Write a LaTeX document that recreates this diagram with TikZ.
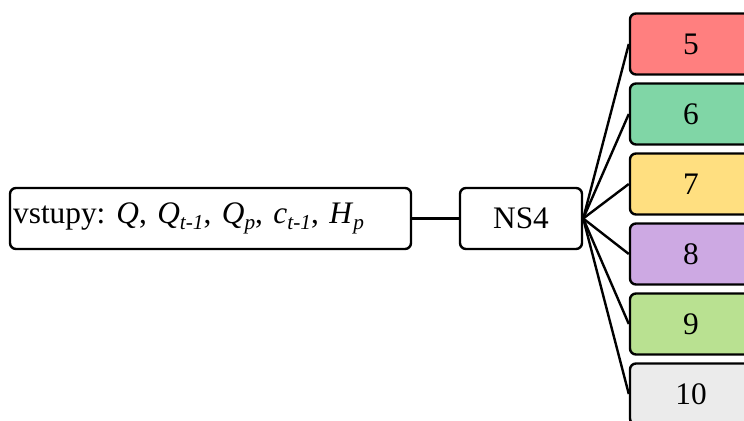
\documentclass[tikz,border=0pt]{standalone}
\usepackage{fontspec}
\setmainfont{Liberation Serif}
\usepackage{xcolor}
\usepackage{tikz}
\usetikzlibrary{positioning}
\definecolor{outRed}{HTML}{FF7F7F}
\definecolor{outGreen}{HTML}{80D6A6}
\definecolor{outYellow}{HTML}{FFDF80}
\definecolor{outViolet}{HTML}{CDA9E3}
\definecolor{outLime}{HTML}{B9E191}
\definecolor{outGrey}{HTML}{EBEBEB}
\newcommand{\lowIdx}[1]{\raisebox{-0.45ex}{\fontsize{16}{16}\selectfont\textit{#1}}}
\tikzset{
    box/.style={draw, line width=1.8pt, rounded corners=4.5pt, minimum height=45.75pt,
        inner sep=0pt, font=\fontsize{23.5}{27}\selectfont},
    outBox/.style={box, minimum width=91.5pt},
    link/.style={line width=1.8pt}
}

\begin{document}
\begin{tikzpicture}[x=0.75pt, y=-0.75pt]
    \clip (0,0) rectangle (744,421);
    \node[box, minimum width=300.75pt, text width=296pt, align=left] (inputs) at (210.5,218.5)
        {\raisebox{-2pt}{vstupy:\hspace{-0.15em} \textit{Q}, \textit{Q}\lowIdx{t-1}, \textit{Q}\lowIdx{p}, \textit{c}\lowIdx{t-1}, \textit{H}\lowIdx{p}}};
    \node[box, minimum width=91.5pt] (ns4) at (521,218.5) {NS4};
    \node[outBox, fill=outRed] (out5) at (691,44) {5};
    \node[outBox, fill=outGreen] (out6) at (691,114) {6};
    \node[outBox, fill=outYellow] (out7) at (691,184) {7};
    \node[outBox, fill=outViolet] (out8) at (691,254) {8};
    \node[outBox, fill=outLime] (out9) at (691,324) {9};
    \node[outBox, fill=outGrey] (out10) at (691,394) {10};
    \draw[link] (inputs) -- (ns4);
    \draw[link] (ns4.east) -- (out5.west);
    \draw[link] (ns4.east) -- (out6.west);
    \draw[link] (ns4.east) -- (out7.west);
    \draw[link] (ns4.east) -- (out8.west);
    \draw[link] (ns4.east) -- (out9.west);
    \draw[link] (ns4.east) -- (out10.west);
\end{tikzpicture}
\end{document}
